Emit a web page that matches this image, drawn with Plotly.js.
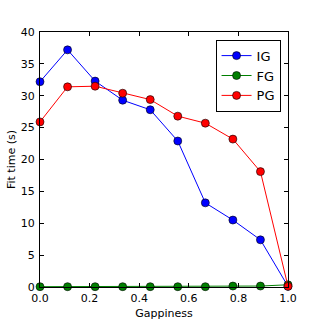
<!DOCTYPE html>
<html><head><meta charset="utf-8">
<script src="https://cdn.plot.ly/plotly-3.0.1.min.js"></script>
<style>html,body{margin:0;padding:0;background:#fff}</style>
</head><body>
<div id="chart" style="width:320px;height:320px"></div>
<script>
const gappiness = [0, 1/9, 2/9, 3/9, 4/9, 5/9, 6/9, 7/9, 8/9, 1];
const igTime = [32.2, 37.2, 32.3, 29.3, 27.8, 22.9, 13.2, 10.5, 7.4, 0.1];
const fgTime = [0.05, 0.05, 0.05, 0.05, 0.05, 0.05, 0.05, 0.15, 0.15, 0.35];
const pgTime = [25.9, 31.4, 31.5, 30.4, 29.4, 26.8, 25.7, 23.2, 18.1, 0.1];
const names = ['IG', 'FG', 'PG'];
const colors = ['#0000ff', '#007f00', '#ff0000'];
const series = [igTime, fgTime, pgTime];

const traces = series.map((ys, i) => ({
  x: gappiness, y: ys, name: names[i], type: 'scatter', mode: 'lines+markers',
  line: {color: colors[i], width: 1},
  marker: {color: colors[i], size: 8, line: {color: '#000', width: 0.6}},
  cliponaxis: false
}));

const axisCommon = {
  showgrid: false, zeroline: false, showline: true, mirror: 'ticks',
  linecolor: '#000', linewidth: 1, ticks: 'inside', ticklen: 4, tickcolor: '#000',
  tickfont: {family: 'DejaVu Sans', size: 11, color: '#000'}
};

const layout = {
  width: 320, height: 320,
  margin: {l: 40, r: 32, t: 32, b: 33},
  paper_bgcolor: '#fff', plot_bgcolor: '#fff',
  showlegend: true,
  legend: {x: 0.97, y: 0.97, xanchor: 'right', yanchor: 'top',
    bordercolor: '#000', borderwidth: 1, bgcolor: '#fff',
    font: {family: 'DejaVu Sans', size: 13, color: '#000'},
    tracegroupgap: 0, itemwidth: 30},
  xaxis: Object.assign({}, axisCommon, {range: [0, 1], tickvals: [0, 0.2, 0.4, 0.6, 0.8, 1.0],
    ticktext: ['0.0', '0.2', '0.4', '0.6', '0.8', '1.0'], ticklabelstandoff: 1,
    title: {text: 'Gappiness', font: {family: 'DejaVu Sans', size: 11, color: '#000'}, standoff: 5}}),
  yaxis: Object.assign({}, axisCommon, {range: [0, 40], tickvals: [0, 5, 10, 15, 20, 25, 30, 35, 40],
    ticklabelstandoff: 2,
    title: {text: 'Fit time (s)', font: {family: 'DejaVu Sans', size: 11, color: '#000'}, standoff: 2}})
};

Plotly.newPlot('chart', traces, layout, {displayModeBar: false, staticPlot: true});
</script>
</body></html>
